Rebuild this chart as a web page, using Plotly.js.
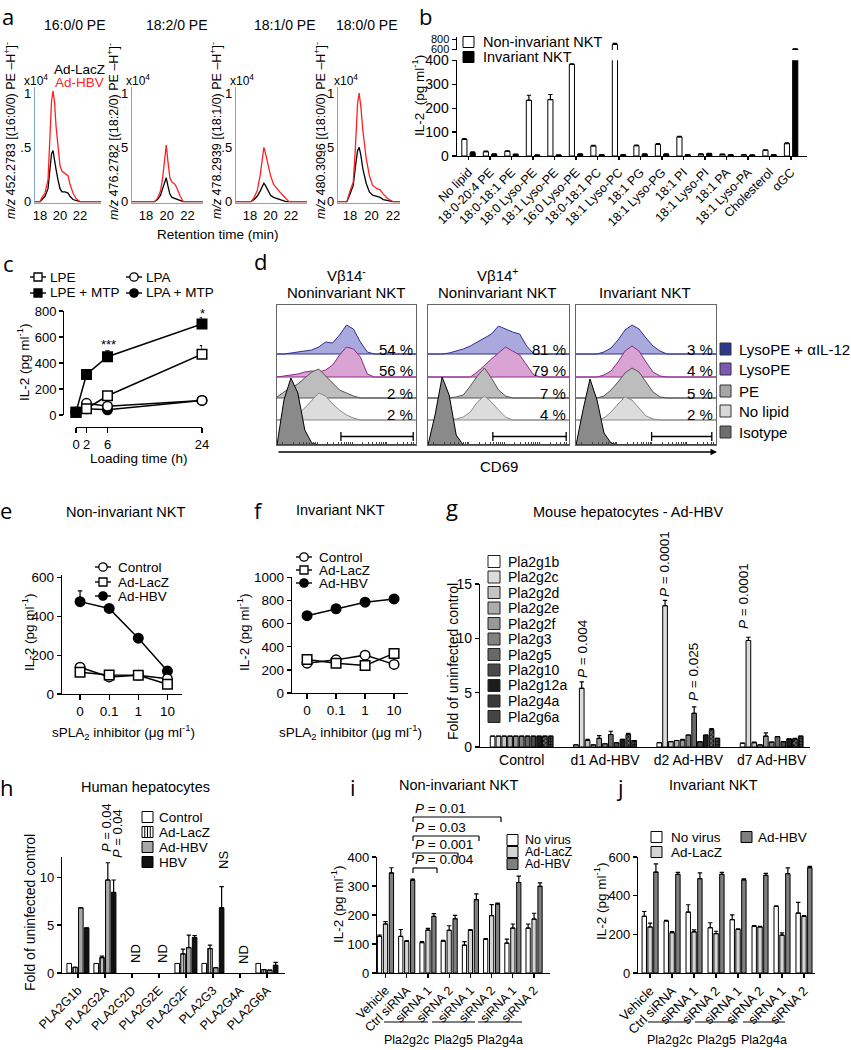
<!DOCTYPE html>
<html><head><meta charset="utf-8">
<script src="https://cdn.plot.ly/plotly-3.0.1.min.js"></script>
<style>html,body{margin:0;padding:0;background:#fff;}#chart{width:851px;height:1050px;}</style>
</head><body><div id="chart"></div>
<script>
// ================= DATA =================
// a: LC-MS traces
const aPanelTitles=['16:0/0 PE','18:2/0 PE','18:1/0 PE','18:0/0 PE'];
const aMz=['452.2783','476.2782','478.2939','480.3096'];
const aSpecies=['16:0/0','18:2/0','18:1/0','18:0/0'];
const aRT1=[17.5,18.0,18.2,18.5,18.8,19.0,19.15,19.3,19.45,19.6,19.8,20.0,20.2,20.5,20.8,21.0,21.3,21.6,22.0,24.1];
const aHBV1=[0,0,0.04,0.08,0.2,0.6,0.92,1.02,0.92,0.7,0.48,0.33,0.28,0.26,0.24,0.16,0.08,0.03,0,0];
const aLacZ1=[0,0,0.02,0.05,0.12,0.3,0.44,0.47,0.4,0.3,0.2,0.12,0.09,0.09,0.08,0.05,0.02,0.01,0,0];
const aRT2=[16.6,18.8,19.1,19.4,19.6,19.8,19.95,20.1,20.3,20.5,20.8,21.0,21.3,21.6,23.6];
const aHBV2=[0,0,0.03,0.1,0.22,0.4,0.52,0.38,0.22,0.18,0.16,0.12,0.05,0,0];
const aLacZ2=[0,0,0.02,0.06,0.12,0.19,0.22,0.15,0.07,0.04,0.03,0.02,0.01,0,0];
const aRT3=[16.6,18.1,18.4,18.7,19.0,19.2,19.35,19.5,19.7,20.0,20.3,20.6,20.9,21.2,21.5,21.8,23.6];
const aHBV3=[0,0,0.04,0.1,0.25,0.42,0.5,0.45,0.36,0.24,0.16,0.12,0.09,0.06,0.03,0,0];
const aLacZ3=[0,0,0.02,0.05,0.1,0.15,0.17,0.15,0.11,0.06,0.04,0.03,0.02,0.01,0,0,0];
const aRT4=[16.9,17.7,18.0,18.3,18.5,18.7,18.85,19.0,19.2,19.5,19.8,20.1,20.5,20.8,21.1,21.5,22.0,22.7];
const aHBV4=[0,0,0.1,0.18,0.5,0.9,1.0,0.88,0.65,0.4,0.24,0.15,0.12,0.11,0.07,0.03,0,0];
const aLacZ4=[0,0,0.07,0.15,0.32,0.47,0.5,0.43,0.3,0.17,0.09,0.06,0.05,0.04,0.02,0.01,0,0];

// b
const bCats=['No lipid','18:0-20:4 PE','18:0-18:1 PE','18:0 Lyso-PE','18:1 Lyso-PE','16:0 Lyso-PE','18:0-18:1 PC','18:1 Lyso-PC','18:1 PG','18:1 Lyso-PG','18:1 PI','18:1 Lyso-PI','18:1 PA','18:1 Lyso-PA','Cholesterol','αGC'];
const bNonInv=[69,18,20,233,236,383,42,700,43,48,80,8,7,5,24,52];
const bNonInvErr=[4,2,2,21,21,2,3,20,3,4,2,1,1,1,2,3];
const bInv=[14,8,7,4,4,8,5,5,8,8,5,10,5,4,5,605];
const bInvErr=[3,1,1,1,1,1,1,1,1,1,1,1,1,1,1,5];

// c
const cTime=[0,2,6,24];
const cLPE=[22,48,148,468], cLPEErr=[3,3,8,65];
const cLPEMTP=[22,312,448,700], cLPEMTPErr=[3,8,45,48];
const cLPA=[22,90,68,112], cLPAErr=[2,5,5,5];
const cLPAMTP=[22,48,40,112], cLPAMTPErr=[2,3,3,5];

// d: CD69 histograms (heights on a common CD69 grid)
const dGrid=[0,5,10,15,20,25,30,35,40,45,50,55,60,65,70,75,80,85,90,95,100];
const dRows=['LysoPE + αIL-12','LysoPE','PE','No lipid','Isotype'];
const dBox1=[
 [0,0,1,2,3,4,7,12,11,19,29,25,12,2,0,0,0,0,0,0,0],
 [0,1,2,3,5,6,5,7,12,22,30,28,20,3,0,0,0,0,0,0,0],
 [1,6,10,14,20,26,29,22,14,8,5,2,0,0,0,0,0,0,0,0,0],
 [0,1,3,6,12,20,27,24,16,10,5,2,0,0,0,0,0,0,0,0,0],
 [0,45,67,52,15,2,0,0,0,0,0,0,0,0,0,0,0,0,0,0,0]];
const dBox2=[
 [0,0,0,1,3,5,8,12,16,20,28,25,22,20,8,0,0,0,0,0,0],
 [0,0,0,0,0,0,0,5,12,18,24,30,26,22,12,2,0,0,0,0,0],
 [0,0,0,0,1,3,12,22,30,20,8,2,0,0,0,0,0,0,0,0,0],
 [0,0,0,0,1,3,8,18,24,18,10,3,0,0,0,0,0,0,0,0,0],
 [0,30,68,50,10,0,0,0,0,0,0,0,0,0,0,0,0,0,0,0,0]];
const dBox3=[
 [0,0,0,0,2,6,14,24,29,25,16,8,3,0,0,0,0,0,0,0,0],
 [0,0,0,0,2,6,15,26,31,26,15,5,1,0,0,0,0,0,0,0,0],
 [0,0,0,0,2,8,16,25,30,26,16,6,1,0,0,0,0,0,0,0,0],
 [0,0,0,0,2,8,16,23,20,12,4,1,0,0,0,0,0,0,0,0,0],
 [0,35,66,45,12,2,0,0,0,0,0,0,0,0,0,0,0,0,0,0,0]];
const dPct1=['54 %','56 %','2 %','2 %'];
const dPct2=['81 %','79 %','7 %','4 %'];
const dPct3=['3 %','4 %','5 %','2 %'];
const dGateStart=[46,46,54], dGateEnd=[98,98,97];

// e
const eDose=['0','0.1','1','10'];
const eControl=[138,88,97,78];
const eLacZ=[112,98,96,50];
const eHBV=[475,440,287,118], eHBVErr=[55,8,6,15];
// f
const fControl=[258,287,328,248];
const fLacZ=[290,257,238,343];
const fHBV=[670,730,787,815];

// g
const gGroups=['Control','d1 Ad-HBV','d2 Ad-HBV','d7 Ad-HBV'];
const gGenes=['Pla2g1b','Pla2g2c','Pla2g2d','Pla2g2e','Pla2g2f','Pla2g3','Pla2g5','Pla2g10','Pla2g12a','Pla2g4a','Pla2g6a'];
const gVals=[
 [1,0.2,0.4,0.35],[1,5.4,13.0,9.8],[1,0.6,0.5,0.4],[1,0.2,0.6,0.2],[1,0.8,0.65,1.0],
 [1,0.3,1.1,0.45],[1,1.15,3.1,0.95],[1,0.4,0.5,0.5],[1,0.7,1.1,0.75],[1,1.15,1.6,0.75],[1,0.6,0.8,1.0]];
const gErr=[
 [0,0,0,0],[0,0.6,0.5,0.3],[0,0.1,0,0.05],[0,0,0,0],[0,0.25,0.05,0.3],
 [0,0,0,0],[0,0.3,0.6,0],[0,0,0,0],[0,0,0,0],[0,0.1,0.1,0.05],[0,0,0,0]];

// h
const hGenes=['PLA2G1b','PLA2G2A','PLA2G2D','PLA2G2E','PLA2G2F','PLA2G3','PLA2G4A','PLA2G6A'];
const hControl=[1,1,null,null,1,1,null,1];
const hLacZ=[0.6,1.6,null,null,2.0,2.55,null,0.35], hLacZErr=[0,0.15,0,0,0.5,0.35,0,0];
const hAdHBV=[6.8,9.7,null,null,2.65,0.55,null,0.3], hAdHBVErr=[0,1.8,0,0,1.3,0,0,0];
const hHBV=[4.7,8.4,null,null,3.7,6.8,null,0.8], hHBVErr=[0,1.3,0,0,0.2,2.2,0,0.3];

// i / j
const ijCats=['Vehicle','Ctrl siRNA','siRNA 1','siRNA 2','siRNA 1','siRNA 2','siRNA 1','siRNA 2'];
const iNoVirus=[126,126,105,110,96,116,103,155], iNoVirusErr=[5,24,3,3,12,3,14,14];
const iLacZ=[169,109,148,147,147,198,155,186], iLacZErr=[8,3,6,16,3,38,14,20];
const iHBV=[345,320,195,187,253,238,312,299], iHBVErr=[18,4,10,12,20,3,22,12];
const jNoVirus=[293,269,315,234,276,242,344,310], jNoVirusErr=[25,3,38,26,25,3,3,55];
const jLacZ=[238,209,213,204,225,238,196,293], jLacZErr=[20,5,10,12,3,3,12,4];
const jHBV=[522,510,488,510,482,505,514,545], jHBVErr=[42,10,30,10,5,10,30,6];
const siGenes=['Pla2g2c','Pla2g5','Pla2g4a'];
const iPvals=['0.01','0.03','0.001','0.004'];

// ================= HELPERS =================
const W=851,H=1050;
const px=v=>v/W, py=v=>1-v/H;
const xd=(a,b)=>[a/W,b/W];
const yd=(t,b)=>[1-b/H,1-t/H];
const FONT='Liberation Sans, Arial, sans-serif';
const traces=[],shapes=[],ann=[];
const layout={width:W,height:H,margin:{l:0,r:0,t:0,b:0},paper_bgcolor:'#fff',plot_bgcolor:'rgba(0,0,0,0)',
  showlegend:false,font:{family:FONT,color:'#000'},barmode:'overlay'};
function T(text,x,y,size,o){o=o||{};ann.push({xref:'paper',yref:'paper',x:px(x),y:py(y),text:text,showarrow:false,borderpad:0,
  xanchor:o.xa||'center',yanchor:o.ya||'middle',textangle:o.rot||0,font:{family:o.family||FONT,size:size,color:o.color||'#000'}});}
function R(x0,y0,x1,y1,fill,lc,lw){shapes.push({type:'rect',xref:'paper',yref:'paper',x0:px(x0),x1:px(x1),y0:py(y1),y1:py(y0),fillcolor:fill,line:{color:lc||'#000',width:lw==null?1:lw}});}
function L(x0,y0,x1,y1,c,w){shapes.push({type:'line',xref:'paper',yref:'paper',x0:px(x0),x1:px(x1),y0:py(y0),y1:py(y1),line:{color:c||'#000',width:w||1.2}});}
function C(cx,cy,r,fill){shapes.push({type:'circle',xref:'paper',yref:'paper',x0:px(cx-r),x1:px(cx+r),y0:py(cy+r),y1:py(cy-r),fillcolor:fill,line:{color:'#000',width:1.3}});}
function ax(extra){return Object.assign({showline:true,linecolor:'#000',linewidth:1.2,ticks:'outside',ticklen:4,tickwidth:1.2,tickcolor:'#000',
  showgrid:false,zeroline:false,fixedrange:true,tickfont:{family:FONT,size:13,color:'#000'}},extra);}
const xk=n=>n===1?'xaxis':'xaxis'+n, yk=n=>n===1?'yaxis':'yaxis'+n;
const xn=n=>n===1?'x':'x'+n, yn=n=>n===1?'y':'y'+n;
function errUp(arr){return {type:'data',array:arr,arrayminus:arr.map(()=>0),symmetric:false,color:'#000',thickness:1.2,width:2.2};}
function barSet(xs,series,errs,colors,xa,ya,slot,w,extras){
  const n=series.length;
  series.forEach((ys,k)=>{
    const t={type:'bar',x:xs,y:ys,xaxis:xa,yaxis:ya,offset:-n*slot/2+k*slot+(slot-w)/2,width:w,
      marker:{color:colors[k],line:{color:'#000',width:1}}};
    if(errs&&errs[k]) t.error_y=errUp(errs[k]);
    if(extras&&extras[k]) Object.assign(t.marker,extras[k]);
    traces.push(t);
  });
}
function lineTr(xs,ys,errs,xa,ya,symbol,fill){
  const t={type:'scatter',mode:'lines+markers',x:xs,y:ys,xaxis:xa,yaxis:ya,cliponaxis:false,
    line:{color:'#000',width:1.5},marker:{symbol:symbol,size:9.5,color:fill,line:{color:'#000',width:1.5}}};
  if(errs) t.error_y=errUp(errs);
  traces.push(t);
}
function legLine(cx,cy,sym,fill){L(cx-8,cy,cx+8,cy,'#000',1.4); if(sym==='s') R(cx-4,cy-4,cx+4,cy+4,fill,'#000',1.3); else C(cx,cy,4.2,fill);}

// ================= PANEL a =================
const aRT=[aRT1,aRT2,aRT3,aRT4], aHBV=[aHBV1,aHBV2,aHBV3,aHBV4], aLacZ=[aLacZ1,aLacZ2,aLacZ3,aLacZ4];
const aDom=[[35,101],[132,203],[236,307],[338,400]];
const aRange=[[17.5,24.1],[16.64,23.5],[16.63,23.56],[16.88,22.65]];
const aTitleX=[75,177,285,367], aYTitleX=[10,113,216,320], aX10=[36,138,242,346];
for(let k=0;k<4;k++){
  const n=k+1;
  traces.push({type:'scatter',mode:'lines',x:aRT[k],y:aLacZ[k],xaxis:xn(n),yaxis:yn(n),line:{color:'#000',width:1.3}});
  traces.push({type:'scatter',mode:'lines',x:aRT[k],y:aHBV[k],xaxis:xn(n),yaxis:yn(n),line:{color:'#ff1f1f',width:1.3}});
  layout[xk(n)]=ax({domain:xd(aDom[k][0],aDom[k][1]),range:aRange[k],anchor:yn(n),tickvals:[18,20,22],ticks:'',linecolor:'#86a2cf',linewidth:1.2});
  layout[yk(n)]=ax({domain:yd(86.5,202.8),range:[-0.01,1.06],anchor:xn(n),tickvals:[0,0.5,1],ticktext:['0','.5','1'],ticks:'',linecolor:'#86a2cf',linewidth:1.2});
  T(aPanelTitles[k],aTitleX[k],25,14);
  T('<i>m/z</i> '+aMz[k]+' [('+aSpecies[k]+') PE –H<sup>+</sup>]<sup>-</sup>',aYTitleX[k],131,12.5,{rot:-90});
  T('x10<sup>4</sup>',aX10[k],80,12);
}
T('Ad-LacZ',79,70,13.5); T('Ad-HBV',79,83,13.5,{color:'#ff1f1f'});
T('Retention time (min)',218,234,13.5);

// ================= PANEL b =================
const bIdx=bCats.map((_,i)=>i);
['y5','y6'].forEach(ya=>barSet(bIdx,[bNonInv,bInv],[bNonInvErr,bInvErr],['#fff','#000'],'x5',ya,0.386,0.24));
layout.xaxis5=ax({domain:xd(456.7,807),range:[-0.55,15.74],anchor:'y5',tickvals:bIdx,ticktext:bCats,tickangle:-45,ticklen:3,tickfont:{family:FONT,size:12.5}});
layout.yaxis5=ax({domain:yd(60.3,156),range:[0,400],anchor:'x5',tickvals:[0,100,200,300,400],tickfont:{family:FONT,size:14}});
layout.yaxis6=ax({domain:yd(37,50),range:[586,846],anchor:'x5',tickvals:[600,800],tickfont:{family:FONT,size:11}});
T('IL-2  (pg ml<sup>-1</sup>)',418,96,13.5,{rot:-90});
R(463,36.5,474,47.5,'#fff'); T('Non-invariant NKT',482,42,14.5,{xa:'left'});
R(463,51.5,474,62.5,'#000'); T('Invariant NKT',482,57,14.5,{xa:'left'});

// ================= PANEL c =================
lineTr(cTime,cLPAMTP,cLPAMTPErr,'x6','y7','circle','#000');
lineTr(cTime,cLPA,cLPAErr,'x6','y7','circle','#fff');
lineTr(cTime,cLPE,cLPEErr,'x6','y7','square','#fff');
lineTr(cTime,cLPEMTP,cLPEMTPErr,'x6','y7','square','#000');
layout.xaxis6=ax({domain:xd(76,202),range:[0,24],anchor:'free',position:py(427),tickvals:cTime,ticklen:5});
layout.yaxis7=ax({domain:yd(311,415),range:[0,800],anchor:'free',position:px(63),tickvals:[0,200,400,600,800]});
T('IL-2 (pg ml<sup>-1</sup>)',23,363,13.5,{rot:-90});
T('Loading time (h)',139,458,13.5);
T('***',108,344,13); T('*',202,313,13);
legLine(38,277,'s','#fff'); T('LPE',49,277,13.5,{xa:'left'});
legLine(134,277,'c','#fff'); T('LPA',145,277,13.5,{xa:'left'});
legLine(38,293,'s','#000'); T('LPE + MTP',49,293,13.5,{xa:'left'});
legLine(134,293,'c','#000'); T('LPA + MTP',145,293,13.5,{xa:'left'});

// ================= PANEL d =================
const dRowBase=[91,68,47,25,0];
const dFill=['#a9a9dd','#d9a3d3','#bdbdbd','#dcdcdc','#8a8a8a'];
const dLine=['#2e3192','#8c2a88','#555','#8a8a8a','#000'];
const dBoxes=[dBox1,dBox2,dBox3], dPct=[dPct1,dPct2,dPct3];
const dDom=[[277,416],[428,569],[576,716]];
const dTicks=[];
[4,29,54,79].forEach(b=>[1,2,3,4,5,6,7,8,9].forEach(m=>{const v=b+25*Math.log10(m); if(v<=100) dTicks.push(v);}));
dBoxes.forEach((box,b)=>{
  const xa='x'+(7+b), ya='y'+(8+b);
  box.forEach((hs,r)=>{
    const base=dRowBase[r];
    traces.push({type:'scatter',mode:'lines',xaxis:xa,yaxis:ya,fill:'toself',fillcolor:dFill[r],
      line:{color:dLine[r],width:1},
      x:dGrid.concat(dGrid.slice().reverse()),
      y:hs.map(h=>h+base).concat(dGrid.map(()=>base))});
  });
  layout['xaxis'+(7+b)]=ax({domain:xd(dDom[b][0],dDom[b][1]),range:[0,100],anchor:ya,mirror:true,linecolor:'#666',linewidth:1,
    ticks:'inside',ticklen:3,tickwidth:1,tickcolor:'#444',tickvals:dTicks,showticklabels:false});
  layout['yaxis'+(8+b)]=ax({domain:yd(305,445),range:[0,140],anchor:xa,mirror:true,linecolor:'#666',linewidth:1,ticks:'',showticklabels:false});
  dPct[b].forEach((p,r)=>T(p,dDom[b][1]-2,[350,371,393,414][r],15,{xa:'right'}));
  const w=dDom[b][1]-dDom[b][0];
  const g0=dDom[b][0]+w*dGateStart[b]/100, g1=dDom[b][0]+w*dGateEnd[b]/100;
  L(g0,436.5,g1,436.5,'#000',1.3); L(g0,432,g0,441,'#000',1.3); L(g1,432,g1,441,'#000',1.3);
});
T('Vβ14<sup>-</sup>',346,275,15); T('Noninvariant NKT',346,292,15);
T('Vβ14<sup>+</sup>',497,275,15); T('Noninvariant NKT',497,292,15);
T('Invariant NKT',645,292,15);
ann.push({xref:'paper',yref:'paper',x:px(717),y:py(452),ax:-440,ay:0,axref:'pixel',ayref:'pixel',text:'',showarrow:true,arrowhead:2,arrowsize:1,arrowwidth:1.3,arrowcolor:'#000'});
T('CD69',499,467,15);
const dLegFill=['#2b3a8f','#7e57b5','#a6a6a6','#d9d9d9','#6e6e6e'];
dRows.forEach((r,k)=>{const y=[349,369,391,411,432][k]; R(720,y-6,731,y+6,dLegFill[k],'#333'); T(r,738,y,15,{xa:'left'});});

// ================= PANEL e =================
const eIdx=eDose.map((_,i)=>i);
lineTr(eIdx,eHBV,eHBVErr,'x10','y11','circle','#000');
lineTr(eIdx,eControl,null,'x10','y11','circle','#fff');
lineTr(eIdx,eLacZ,null,'x10','y11','square','#fff');
layout.xaxis10=ax({domain:xd(62,182),range:[-0.62,3.5],anchor:'y11',tickvals:eIdx,ticktext:eDose,ticklen:5,tickfont:{family:FONT,size:13.5}});
layout.yaxis11=ax({domain:yd(575,694),range:[0,612],anchor:'x10',tickvals:[0,200,400,600],tickfont:{family:FONT,size:13.5}});
T('Non-invariant NKT',125,512,14.5);
T('IL-2 (pg ml<sup>-1</sup>)',28,633,13.5,{rot:-90});
T('sPLA<sub>2</sub> inhibitor (μg ml<sup>-1</sup>)',123,732,13.5);
legLine(103,567,'c','#fff'); T('Control',117,567,13.5,{xa:'left'});
legLine(103,582,'s','#fff'); T('Ad-LacZ',117,582,13.5,{xa:'left'});
legLine(103,596,'c','#000'); T('Ad-HBV',117,596,13.5,{xa:'left'});

// ================= PANEL f =================
lineTr(eIdx,fHBV,null,'x11','y12','circle','#000');
lineTr(eIdx,fControl,null,'x11','y12','circle','#fff');
lineTr(eIdx,fLacZ,null,'x11','y12','square','#fff');
layout.xaxis11=ax({domain:xd(292,408),range:[-0.52,3.48],anchor:'y12',tickvals:eIdx,ticktext:eDose,ticklen:5,tickfont:{family:FONT,size:13.5}});
layout.yaxis12=ax({domain:yd(577,693),range:[0,1005],anchor:'x11',tickvals:[0,200,400,600,800,1000],tickfont:{family:FONT,size:13.5}});
T('Invariant NKT',340,510,14.5);
T('IL-2 (pg ml<sup>-1</sup>)',243,632,13.5,{rot:-90});
T('sPLA<sub>2</sub> inhibitor (μg ml<sup>-1</sup>)',350,732,13.5);
legLine(304,557,'c','#fff'); T('Control',318,557,13.5,{xa:'left'});
legLine(304,570,'s','#fff'); T('Ad-LacZ',318,570,13.5,{xa:'left'});
legLine(304,583,'c','#000'); T('Ad-HBV',318,583,13.5,{xa:'left'});

// ================= PANEL g =================
const gIdx=gGroups.map((_,i)=>i);
const gColors=['#ffffff','#dcdcdc','#c4c4c4','#adadad','#989898','#828282','#686868','#4a4a4a','#1c1c1c','#3a3a3a','#454545'];
const gExtras=gGenes.map(()=>null);
gExtras[9]={pattern:{shape:'x',fgcolor:'#000',bgcolor:'#6a6a6a',size:3,solidity:0.45}};
gExtras[10]={pattern:{shape:'.',fgcolor:'#000',bgcolor:'#5a5a5a',size:3,solidity:0.5}};
barSet(gIdx,gVals,gErr,gColors,'x12','y13',0.0698,0.056,gExtras);
layout.xaxis12=ax({domain:xd(480,810),range:[-0.5,3.46],anchor:'y13',tickvals:gIdx,ticktext:gGroups,ticks:'',tickfont:{family:FONT,size:14}});
layout.yaxis13=ax({domain:yd(584,747),range:[0,15],anchor:'x12',tickvals:[0,5,10,15],tickfont:{family:FONT,size:14}});
T('Mouse hepatocytes - Ad-HBV',628,512,14.5);
T('Fold of uninfected control',453,662,14,{rot:-90});
gGenes.forEach((g,k)=>{const y=561.5+15.5*k; R(488,y-6,500,y+6,gColors[k],'#222'); T(g,507,y,14,{xa:'left'});});
T('<i>P</i> = 0.004',582,649,13.5,{rot:-90});
T('<i>P</i> = 0.0001',664,564,13.5,{rot:-90});
T('<i>P</i> = 0.025',693,672,13.5,{rot:-90});
T('<i>P</i> = 0.0001',743,596,13.5,{rot:-90});

// ================= PANEL h =================
const hIdx=hGenes.map((_,i)=>i);
barSet(hIdx,[hControl,hLacZ,hAdHBV,hHBV],[null,hLacZErr,hAdHBVErr,hHBVErr],['#fff','#fff','#a8a8a8','#111'],'x13','y14',0.215,0.17,
  [null,{pattern:{shape:'|',fgcolor:'#000',bgcolor:'#fff',size:2.5,solidity:0.45}},null,null]);
layout.xaxis13=ax({domain:xd(62,285),range:[-0.59,7.67],anchor:'y14',tickvals:hIdx,ticktext:hGenes,tickangle:-45,tickfont:{family:FONT,size:12.5}});
layout.yaxis14=ax({domain:yd(857,973),range:[0,12.1],anchor:'x13',tickvals:[0,5,10],tickfont:{family:FONT,size:13}});
T('Human hepatocytes',145,787,14.5);
T('Fold of uninfected control',30,913,14,{rot:-90});
R(142,811.5,153,822.5,'#fff'); T('Control',158,817,13.5,{xa:'left'});
R(142,826.5,153,837.5,'#fff'); L(144.75,826.5,144.75,837.5,'#000',1); L(147.5,826.5,147.5,837.5,'#000',1); L(150.25,826.5,150.25,837.5,'#000',1); T('Ad-LacZ',158,832,13.5,{xa:'left'});
R(142,841.5,153,852.5,'#a8a8a8'); T('Ad-HBV',158,847,13.5,{xa:'left'});
R(142,856.5,153,867.5,'#111'); T('HBV',158,862,13.5,{xa:'left'});
T('<i>P</i> = 0.04',106,828,13,{rot:-90});
T('<i>P</i> = 0.04',117,834,13,{rot:-90});
T('NS',223,860,13,{rot:-90});
[135,162,243].forEach(x=>T('ND',x,954,13,{rot:-90}));

// ================= PANEL i =================
const ijIdx=ijCats.map((_,i)=>i);
barSet(ijIdx,[iNoVirus,iLacZ,iHBV],[iNoVirusErr,iLacZErr,iHBVErr],['#fff','#d4d4d4','#7f7f7f'],'x14','y15',0.28,0.2);
layout.xaxis14=ax({domain:xd(377,550),range:[-0.4,7.75],anchor:'y15',tickvals:ijIdx,ticktext:ijCats,tickangle:-45,tickfont:{family:FONT,size:12.5}});
layout.yaxis15=ax({domain:yd(857,973),range:[0,400],anchor:'x14',tickvals:[0,100,200,300,400],tickfont:{family:FONT,size:13}});
T('Non-invariant NKT',459,785,14.5);
T('IL-2 (pg ml<sup>-1</sup>)',337,905,13.5,{rot:-90});
const iBrY=[817,836,853,868], iBrX1=[501,479,458,437];
iPvals.forEach((p,k)=>{const y=iBrY[k]; L(413,y,iBrX1[k],y,'#000',1.2); L(413,y,413,y+5,'#000',1.2); L(iBrX1[k],y,iBrX1[k],y+5,'#000',1.2);
  T('<i>P</i> = '+p,414,y-9,13.5,{xa:'left'});});
R(507,834.5,518,845.5,'#fff'); T('No virus',524,840,12.5,{xa:'left'});
R(507,846.5,518,857.5,'#d4d4d4'); T('Ad-LacZ',524,852,12.5,{xa:'left'});
R(507,858.5,518,869.5,'#7f7f7f'); T('Ad-HBV',524,864,12.5,{xa:'left'});
[[384,428],[432,475],[478,522]].forEach((s,k)=>{L(s[0],1022,s[1],1022,'#000',1); T(siGenes[k],(s[0]+s[1])/2,1040,12.5);});

// ================= PANEL j =================
barSet(ijIdx,[jNoVirus,jLacZ,jHBV],[jNoVirusErr,jLacZErr,jHBVErr],['#fff','#d4d4d4','#7f7f7f'],'x15','y16',0.265,0.2);
layout.xaxis15=ax({domain:xd(638,815),range:[-0.55,7.5],anchor:'y16',tickvals:ijIdx,ticktext:ijCats,tickangle:-45,tickfont:{family:FONT,size:13}});
layout.yaxis16=ax({domain:yd(857,973),range:[0,600],anchor:'x15',tickvals:[0,200,400,600],tickfont:{family:FONT,size:13}});
T('Invariant NKT',713,785,14.5);
T('IL-2 (pg ml<sup>-1</sup>)',600,902,13.5,{rot:-90});
R(651,831.5,662,842.5,'#fff'); T('No virus',670,837,13.5,{xa:'left'});
R(651,846.5,662,857.5,'#d4d4d4'); T('Ad-LacZ',670,852,13.5,{xa:'left'});
R(741,831.5,752,842.5,'#7f7f7f'); T('Ad-HBV',757,837,13.5,{xa:'left'});
[[648,690],[695,738],[743,785]].forEach((s,k)=>{L(s[0],1022,s[1],1022,'#000',1); T(siGenes[k],(s[0]+s[1])/2,1040,12.5);});

// ================= PANEL LETTERS =================
const LF='Open Sans, Arial, sans-serif';
[['a',8,16],['b',425,16],['c',8,263],['d',260,261],['e',6,510],['f',258,510],['g',452,507],['h',7,787],['i',353,787],['j',620,787]]
  .forEach(l=>T(l[0],l[1],l[2],22,{family:LF}));

layout.shapes=shapes; layout.annotations=ann;
Plotly.newPlot('chart',traces,layout,{staticPlot:true,displayModeBar:false});
</script></body></html>
